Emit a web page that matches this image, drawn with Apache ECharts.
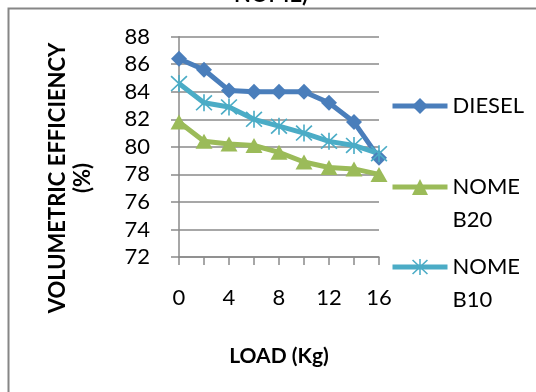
<!DOCTYPE html>
<html>
<head>
<meta charset="utf-8">
<script src="https://cdn.jsdelivr.net/npm/echarts@6/dist/echarts.min.js"></script>
<style>
  html, body { margin: 0; padding: 0; background: #fff; }
  #chart { width: 536px; height: 392px; }
</style>
</head>
<body>
<div id="chart"></div>
<script>
// Engine load steps (kg) and volumetric efficiency (%) per fuel
const loadKg = [0, 2, 4, 6, 8, 10, 12, 14, 16];
const diesel = [86.4, 85.6, 84.1, 84.0, 84.0, 84.0, 83.2, 81.8, 79.2];
const nomeB20 = [81.8, 80.4, 80.2, 80.1, 79.6, 78.9, 78.5, 78.4, 78.0];
const nomeB10 = [84.6, 83.2, 82.9, 82.0, 81.5, 81.0, 80.4, 80.1, 79.5];
const seriesNames = ['DIESEL', 'NOME B20', 'NOME B10'];

const FONT = 'Lato, "Open Sans", sans-serif';
const GRAY = '#8a8a8a';

// asterisk marker: vertical bar plus two diagonals
const STAR = 'path://M9.1 0L10.9 0L10.9 20L9.1 20Z' +
  'M0.6 1.9L1.9 0.6L19.4 18.1L18.1 19.4Z' +
  'M18.1 0.6L19.4 1.9L1.9 19.4L0.6 18.1Z';

const pairs = arr => loadKg.map((x, i) => [x, arr[i]]);

const chart = echarts.init(document.getElementById('chart'), null, { renderer: 'canvas' });

const legendText = {
  fontFamily: FONT, fontSize: 22, color: '#000', lineHeight: 33
};
// two-line legend entries: a blank first line keeps the key beside the top line
const wrapName = n => '\n' + n.replace(' ', '\n');

const legendBase = {
  left: 390, padding: 0,
  itemWidth: 55, itemHeight: 20, itemGap: 0,
  lineStyle: { width: 5 },
  textStyle: legendText
};

chart.setOption({
  animation: false,
  graphic: {
    elements: [
      {
        // chart frame; its right and bottom edges lie outside the view
        type: 'rect',
        z: 50,
        shape: { x: 8.5, y: 8.5, width: 560, height: 420 },
        style: { fill: 'none', stroke: '#868686', lineWidth: 2 },
        silent: true
      },
      {
        // chart title, mostly above the top edge
        type: 'text',
        x: 271, y: 6,
        style: {
          text: 'NOME)',
          align: 'center',
          verticalAlign: 'bottom',
          font: 'bold 22px ' + FONT,
          fill: '#000'
        }
      },
      {
        type: 'text',
        x: 70, y: 178,
        rotation: Math.PI / 2,
        style: {
          text: 'VOLUMETRIC EFFICIENCY\n(%)',
          align: 'center',
          verticalAlign: 'middle',
          font: 'bold 22px ' + FONT,
          lineHeight: 25,
          fill: '#000'
        }
      }
    ]
  },
  grid: { left: 179, right: 157, top: 36.7, bottom: 135, containLabel: false },
  legend: [
    Object.assign({}, legendBase, { data: [seriesNames[0]], top: 89.5 }),
    Object.assign({}, legendBase, { data: [seriesNames[1]], top: 137.5, formatter: wrapName }),
    Object.assign({}, legendBase, { data: [seriesNames[2]], top: 217.5, formatter: wrapName })
  ],
  xAxis: {
    type: 'value',
    min: 0, max: 16, interval: 2,
    name: 'LOAD (Kg)',
    nameLocation: 'middle',
    nameGap: 89,
    nameTextStyle: { fontFamily: FONT, fontSize: 21, fontWeight: 'bold', color: '#000' },
    axisLine: { show: true, lineStyle: { color: GRAY, width: 1.5 } },
    axisTick: { show: true, length: 8, lineStyle: { color: GRAY, width: 1.5 } },
    splitLine: { show: false },
    axisLabel: {
      margin: 30,
      fontFamily: FONT, fontSize: 22, color: '#000',
      formatter: v => (v % 4 === 0 ? String(v) : '')
    }
  },
  yAxis: {
    type: 'value',
    min: 72, max: 88, interval: 2,
    axisLine: { show: true, lineStyle: { color: GRAY, width: 1.5 } },
    axisTick: { show: true, length: 8, lineStyle: { color: GRAY, width: 1.5 } },
    splitLine: { show: true, lineStyle: { color: GRAY, width: 1.5 } },
    axisLabel: { margin: 29, fontFamily: FONT, fontSize: 22, color: '#000' }
  },
  series: [
    {
      name: seriesNames[0], type: 'line', data: pairs(diesel),
      symbol: 'diamond', symbolSize: 16,
      lineStyle: { color: '#4A7EBB', width: 5 },
      itemStyle: { color: '#4A7EBB' }
    },
    {
      name: seriesNames[1], type: 'line', data: pairs(nomeB20),
      symbol: 'triangle', symbolSize: [17, 15],
      lineStyle: { color: '#9BBB59', width: 5 },
      itemStyle: { color: '#9BBB59' }
    },
    {
      name: seriesNames[2], type: 'line', data: pairs(nomeB10),
      symbol: STAR, symbolSize: 17,
      lineStyle: { color: '#4BACC6', width: 5 },
      itemStyle: { color: '#4BACC6' }
    }
  ]
});
</script>
</body>
</html>
